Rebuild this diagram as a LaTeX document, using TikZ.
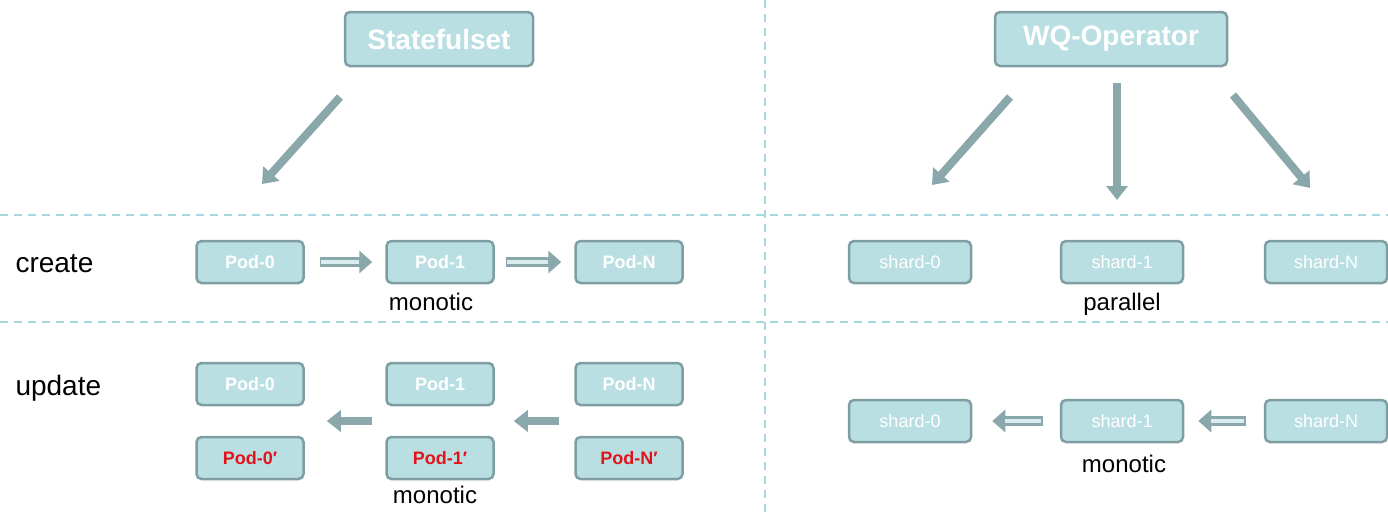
\documentclass[tikz,border=0pt]{standalone}
\usepackage{fontspec}
\setmainfont{Liberation Sans}
\usetikzlibrary{arrows.meta,calc}

\definecolor{boxfill}{HTML}{BADFE2}
\definecolor{boxline}{HTML}{7E9EA1}
\definecolor{arrowgray}{HTML}{8AA8AB}
\definecolor{gridline}{HTML}{A6D6DE}
\definecolor{newred}{HTML}{E3131B}

\newcommand{\prm}{{\char"2032}}

\begin{document}
\begin{tikzpicture}[x=1pt,y=-1pt,
  box/.style={draw=boxline, fill=boxfill, line width=2.5pt, rounded corners=5pt,
    minimum height=42pt, inner sep=0pt, text=white,
    font=\fontsize{18}{20}\selectfont\bfseries},
  podbox/.style={box, minimum width=107pt},
  newpod/.style={podbox, text=newred},
  shardbox/.style={box, minimum width=122pt, font=\fontsize{18}{20}\selectfont},
  headbox/.style={box, minimum height=54pt, font=\fontsize{28}{32}\selectfont\bfseries},
  divider/.style={draw=gridline, line width=1.5pt, dash pattern=on 8pt off 6pt},
  bigarrow/.style={draw=arrowgray, line width=8pt, -{Triangle[length=14pt,width=21pt]}},
  hollowarrow/.style={draw=arrowgray, line width=10pt, -{Triangle[length=13pt,width=22pt]},
    postaction={draw=boxfill!55!white, line width=4pt, -, shorten >=13pt, shorten <=1.5pt}},
  notetext/.style={font=\fontsize{24}{26}\selectfont, text=black, anchor=base},
  rowtext/.style={font=\fontsize{28}{30}\selectfont, text=black, anchor=base west},
]
\useasboundingbox (0,0) rectangle (1388,512);

% section dividers
\draw[divider] (765,0) -- (765,512);
\draw[divider] (0,215) -- (1388,215);
\draw[divider] (0,322) -- (1388,322);

% controllers
\node[headbox, minimum width=188pt] (ss) at (439,39) {Statefulset};
\node[headbox, minimum width=232pt] (wq) at (1111,39) {WQ-Operator};

% arrows leaving the controllers
\coordinate (ssA) at (340,97);  \coordinate (ssB) at (262,184);
\coordinate (wqLA) at (1010,97); \coordinate (wqLB) at (932,185);
\coordinate (wqMA) at (1117,83); \coordinate (wqMB) at (1117,200);
\coordinate (wqRA) at (1233,95); \coordinate (wqRB) at (1310,188);
\draw[bigarrow] (ssA) -- (ssB);
\draw[bigarrow] (wqLA) -- (wqLB);
\draw[bigarrow] (wqMA) -- (wqMB);
\draw[bigarrow] (wqRA) -- (wqRB);

% row labels
\node[rowtext] (lcreate) at (12,272) {create};
\node[rowtext] (lupdate) at (12,395) {update};

% StatefulSet: create
\node[podbox] (c0) at (250,262) {Pod-0};
\node[podbox] (c1) at (440,262) {Pod-1};
\node[podbox] (cn) at (629,262) {Pod-N};
\draw[hollowarrow] ([xshift=15pt]c0.east) -- ([xshift=-13pt]c1.west);
\draw[hollowarrow] ([xshift=11pt]c1.east) -- ([xshift=-13pt]cn.west);
\node[notetext] (cmono) at (431,310) {monotic};

% StatefulSet: update
\node[podbox] (u0) at (250,384) {Pod-0};
\node[podbox] (u1) at (440,384) {Pod-1};
\node[podbox] (un) at (629,384) {Pod-N};
\node[newpod] (n0) at (250,458) {Pod-0\prm};
\node[newpod] (n1) at (440,458) {Pod-1\prm};
\node[newpod] (nn) at (629,458) {Pod-N\prm};
\draw[bigarrow] ([xshift=-13pt]$(u1.west)!0.5!(n1.west)$) -- ([xshift=22pt]$(u0.east)!0.5!(n0.east)$);
\draw[bigarrow] ([xshift=-15pt]$(un.west)!0.5!(nn.west)$) -- ([xshift=19pt]$(u1.east)!0.5!(n1.east)$);
\node[notetext] (umono) at (435,503) {monotic};

% WQ-Operator: create
\node[shardbox] (s0) at (910,262) {shard-0};
\node[shardbox] (s1) at (1122,262) {shard-1};
\node[shardbox] (sn) at (1326,262) {shard-N};
\node[notetext] (spar) at (1122,310) {parallel};

% WQ-Operator: update
\node[shardbox] (t0) at (910,421) {shard-0};
\node[shardbox] (t1) at (1122,421) {shard-1};
\node[shardbox] (tn) at (1326,421) {shard-N};
\draw[hollowarrow] ([xshift=-17pt]t1.west) -- ([xshift=20pt]t0.east);
\draw[hollowarrow] ([xshift=-18pt]tn.west) -- ([xshift=14pt]t1.east);
\node[notetext] (smono) at (1124,472) {monotic};
\end{tikzpicture}
\end{document}
